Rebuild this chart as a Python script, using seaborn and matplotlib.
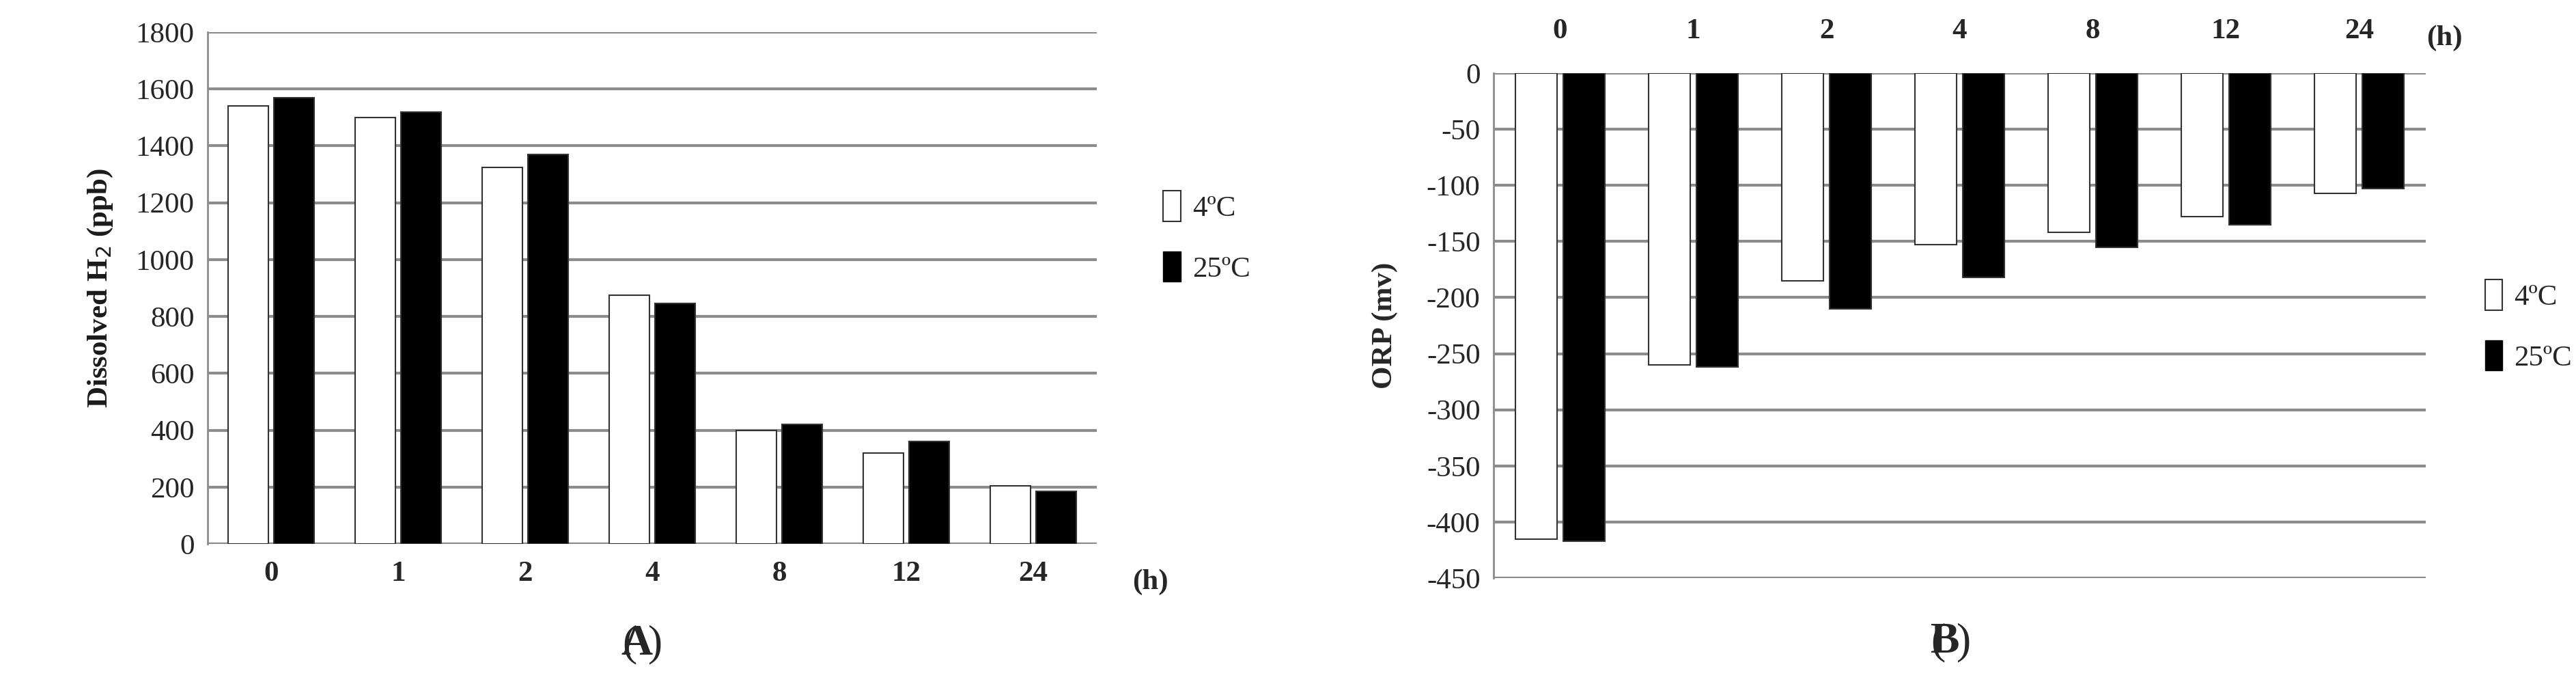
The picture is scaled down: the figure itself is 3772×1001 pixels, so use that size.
import matplotlib
matplotlib.use("Agg")
from matplotlib import pyplot as plt
from matplotlib.patches import Patch
import seaborn as sns
import pandas as pd

hours = ['0', '1', '2', '4', '8', '12', '24']
series = ['4ºC', '25ºC']
h2_4c = [1540, 1500, 1325, 875, 400, 320, 205]
h2_25c = [1570, 1520, 1370, 845, 420, 360, 185]
orp_4c = [-415, -260, -185, -153, -142, -128, -107]
orp_25c = [-417, -262, -210, -182, -155, -135, -103]

sns.set_style('white')
plt.rcParams['font.family'] = ['Liberation Serif', 'DejaVu Serif']
plt.rcParams['axes.unicode_minus'] = False

grid_color = '#8c8c8c'
fs = 31


def make_frame(v1, v2):
    return pd.DataFrame({'hour': hours * 2,
                         'temp': [series[0]] * len(hours) + [series[1]] * len(hours),
                         'value': v1 + v2})


def draw_panel(ax, data, ylim, yticks):
    sns.barplot(data=data, x='hour', y='value', hue='temp', order=hours, hue_order=series,
                palette=['white', 'black'], edgecolor='#333333', linewidth=1.5,
                width=0.72, gap=0.12, legend=False, ax=ax, zorder=3)
    ax.set_ylim(*ylim)
    ax.set_yticks(yticks)
    ax.yaxis.grid(True, color=grid_color, linewidth=3, zorder=0)
    ax.set_axisbelow(True)
    for s in ['top', 'right', 'bottom']:
        ax.spines[s].set_visible(False)
    ax.spines['left'].set_color(grid_color)
    ax.spines['left'].set_linewidth(2)
    ax.tick_params(axis='y', labelsize=fs, length=8, color=grid_color, width=2, direction='out', pad=6)
    ax.tick_params(axis='x', length=0, labelsize=fs, pad=18)
    ax.set_xlabel('')
    handles = [Patch(facecolor='white', edgecolor='#333333', linewidth=1.5, label=series[0]),
               Patch(facecolor='black', edgecolor='black', label=series[1])]
    return handles


fig = plt.figure(figsize=(37.72, 10.01), dpi=100)

# Panel A
axA = fig.add_axes([304 / 3772, 1 - 796 / 1001, 1302 / 3772, 749 / 1001])
hA = draw_panel(axA, make_frame(h2_4c, h2_25c), (0, 1800), range(0, 1801, 200))
axA.axhline(0, color=grid_color, linewidth=3, zorder=1)
for t in axA.get_xticklabels():
    t.set_fontweight('bold')
axA.set_ylabel('Dissolved H$_2$ (ppb)', fontsize=fs, fontweight='bold', labelpad=22, color='#1a1a1a')
axA.text(1.06, -0.075, '(h)', transform=axA.transAxes, fontsize=fs, fontweight='bold', ha='center', va='center')
axA.legend(handles=hA, loc='center left', bbox_to_anchor=(1.045, 0.6), frameon=False,
           fontsize=fs, handlelength=0.6, handleheight=1.2, handletextpad=0.4, labelspacing=1.0)
fig.text(932 / 3772, 1 - 943 / 1001, '(', fontsize=46, ha='right', va='center')
fig.text(932 / 3772, 1 - 943 / 1001, 'A', fontsize=46, fontweight='bold', ha='center', va='center')
fig.text(932 / 3772 + 0.0045, 1 - 943 / 1001, ')', fontsize=46, ha='left', va='center')

# Panel B
axB = fig.add_axes([2187 / 3772, 1 - 846 / 1001, 1365 / 3772, 739 / 1001])
hB = draw_panel(axB, make_frame(orp_4c, orp_25c), (-450, 0), range(-450, 1, 50))
axB.xaxis.tick_top()
axB.tick_params(axis='x', pad=30, length=0, labelsize=fs)
for t in axB.get_xticklabels():
    t.set_fontweight('bold')
axB.set_ylabel('ORP (mv)', fontsize=fs, fontweight='bold', labelpad=30)
axB.text(1.02, 1.07, '(h)', transform=axB.transAxes, fontsize=fs, fontweight='bold', ha='center', va='center')
axB.legend(handles=hB, loc='center left', bbox_to_anchor=(1.035, 0.5), frameon=False,
           fontsize=fs, handlelength=0.6, handleheight=1.2, handletextpad=0.4, labelspacing=1.0)
fig.text(2848 / 3772, 1 - 940 / 1001, '(', fontsize=46, ha='right', va='center')
fig.text(2848 / 3772, 1 - 940 / 1001, 'B', fontsize=46, fontweight='bold', ha='center', va='center')
fig.text(2848 / 3772 + 0.0045, 1 - 940 / 1001, ')', fontsize=46, ha='left', va='center')

fig.savefig('out.png', dpi=100)
